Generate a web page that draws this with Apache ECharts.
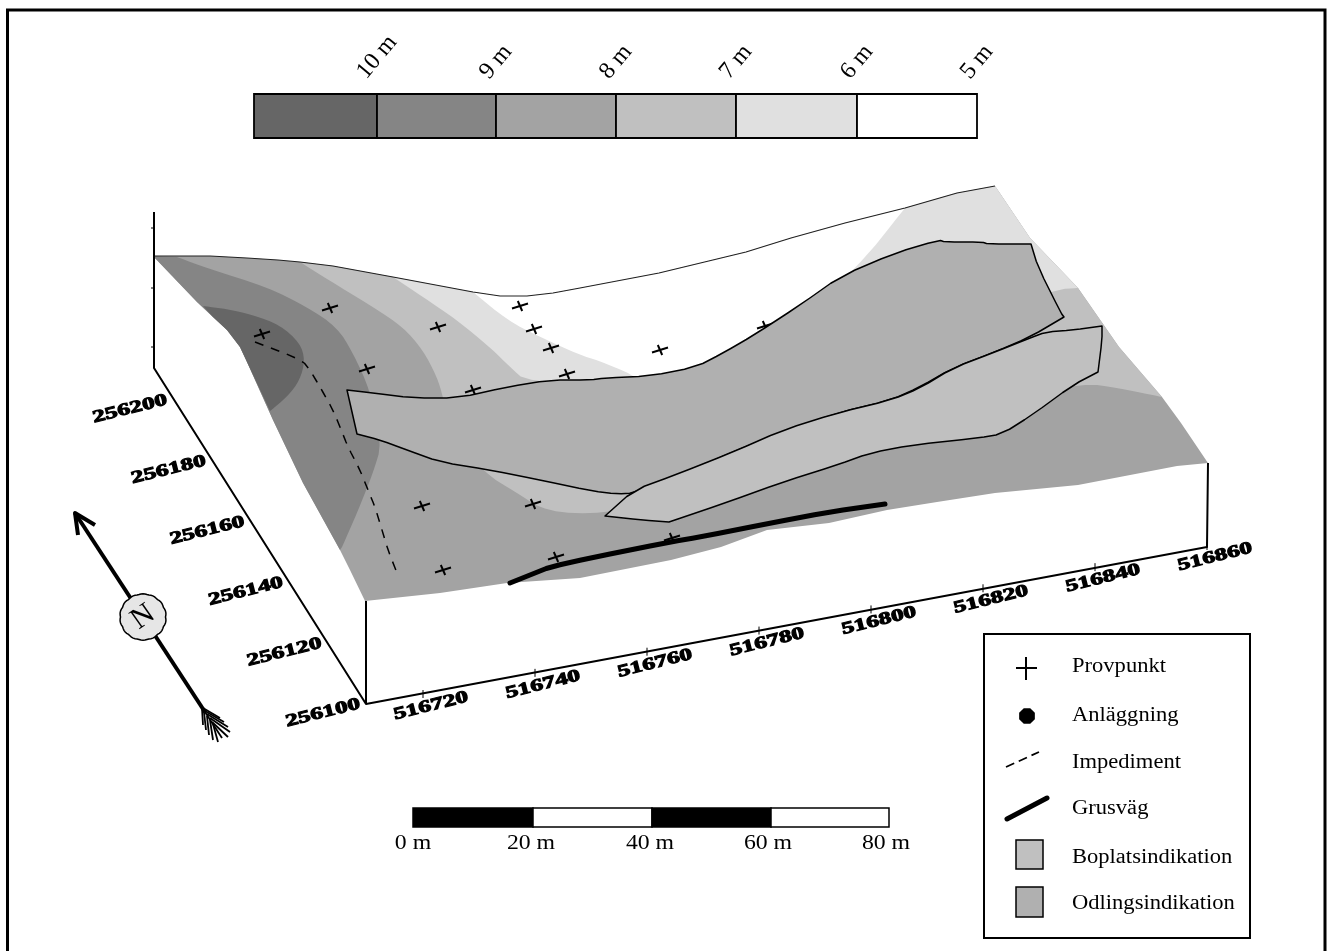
<!DOCTYPE html>
<html><head><meta charset="utf-8">
<style>html,body{margin:0;padding:0;background:#fff}#c{width:1328px;height:951px}</style>
<script src="https://cdn.jsdelivr.net/npm/echarts@6/dist/echarts.min.js"></script>
</head><body><div id="c"></div>
<script>
// Readings from the picture, in the chart's plain [x, y] plot units
const terrainTop=[[153,256],[210,256],[247,258],[278,260],[300,262],[333,266],[393,277],[473,292],[500,296],[527,296],[553,293],[580,288],[659,273],[746,252],[791,238],[845,223],[905,208],[957,193],[995,186]];
const terrainRight=[[1030,238],[1078,288],[1119,347],[1162,397],[1181,423],[1208,463]];
const terrainFront=[[1177,466],[1078,485],[995,493],[937,502],[887,510],[829,523],[767,530],[721,547],[671,560],[580,578],[507,583],[440,593],[365,601]];
const terrainLeft=[[350,570],[340,550],[303,483],[273,420],[247,362],[240,347],[227,330],[213,317],[197,302]];
const contour9=[[177,257],[207,268],[267,287],[307,307],[337,327],[353,353],[370,390],[382,443],[373,473],[357,513],[342,547]];
const contour10=[[203,306],[227,309],[253,315],[280,325],[300,343],[305,360],[300,380],[287,397],[270,411]];
const contour7=[[1162,397],[1119,388],[1084,383],[1000,400],[800,450],[660,500],[604,514],[547,512],[517,493],[483,472],[450,430],[443,397],[437,377],[423,350],[403,327],[373,307],[340,287],[300,262]];
const contour6=[[1078,288],[1057,289],[900,340],[650,390],[527,382],[510,367],[493,350],[457,320],[423,297],[393,277]];
const contour5=[[905,208],[858,267],[760,360],[640,385],[634,375],[597,360],[580,355],[540,337],[507,320],[473,292]];
const odlings=[[347,390],[373,393],[413,398],[458,398],[507,387],[550,380],[590,380],[605,378],[650,376],[696,367],[723,353],[754,335],[800,305],[841,276],[895,253],[939,240],[945,242],[982,242],[988,244],[1031,244],[1038,267],[1061,313],[1064,317],[1030,337],[995,352],[953,368],[920,387],[891,400],[837,413],[775,435],[733,452],[680,475],[634,493],[617,494],[592,491],[540,480],[490,470],[440,462],[407,450],[380,440],[357,434]];
const boplats=[[605,516],[634,490],[675,475],[733,452],[783,430],[837,413],[891,400],[920,388],[953,368],[995,352],[1030,338],[1046,332],[1073,330],[1102,326],[1102,340],[1098,372],[1073,385],[1032,415],[1002,434],[978,438],[912,445],[870,453],[837,465],[783,482],[725,503],[669,522],[642,520]];
const road=[[510,583],[535,573],[550,567],[590,558],[670,542],[700,537],[771,523],[829,512],[885,504]];
const impediment=[[255,342],[297,358],[307,365],[320,387],[333,410],[340,427],[348,447],[360,470],[368,490],[375,507],[382,530],[388,550],[397,573]];
const samplePoints=[[330,308],[438,327],[520,306],[534,329],[551,348],[567,374],[473,390],[367,369],[262,334],[422,506],[533,504],[443,570],[556,557],[660,350],[765,326],[672,538]];
const rampLabels=['10 m','9 m','8 m','7 m','6 m','5 m'];
const rampGreys=['#666666','#858585','#a3a3a3','#c0c0c0','#e0e0e0','#ffffff'];
const rampEdges=[254,377,496,616,736,857,977];
const eastTicks=[516720,516740,516760,516780,516800,516820,516840,516860];
const northTicks=[256200,256180,256160,256140,256120,256100];
const scaleLabels=['0 m','20 m','40 m','60 m','80 m'];
const scaleEdges=[413,533,652,771,889];
const legendLabels=['Provpunkt','Anläggning','Impediment','Grusväg','Boplatsindikation','Odlingsindikation'];

const SERIF='"Liberation Serif","Times New Roman",serif';
const series=[];
let z=1;
// Corner-cutting for drawing curved outlines; end points stay where they are
function round(pts,n){
  let cur=pts;
  for(let k=0;k<(n||2);k++){
    const out=[cur[0]];
    for(let i=0;i<cur.length-1;i++){
      const a=cur[i],b=cur[i+1];
      out.push([a[0]*.75+b[0]*.25,a[1]*.75+b[1]*.25],[a[0]*.25+b[0]*.75,a[1]*.25+b[1]*.75]);
    }
    out.push(cur[cur.length-1]);
    cur=out;
  }
  return cur;
}
// rounds the runs between listed sharp corners
function runs(pts,corners){
  const idx=corners.map(c=>pts.findIndex(p=>p[0]===c[0]&&p[1]===c[1]));
  let out=[];
  for(let i=0;i<idx.length;i++){
    const s=idx[i],e=idx[(i+1)%idx.length];
    const part=e>s?pts.slice(s,e+1):pts.slice(s).concat(pts.slice(0,e+1));
    out=out.concat(round(part,1).slice(0,-1));
  }
  return out;
}
function shape(pts,style,closed){
  series.push({type:'custom',coordinateSystem:'cartesian2d',silent:true,clip:false,z:z++,animation:false,
    data:[[pts[0][0],pts[0][1]]],encode:{x:0,y:1},
    renderItem:(p,api)=>({type:closed?'polygon':'polyline',
      shape:{points:pts.map(q=>api.coord(q))},
      style:Object.assign(closed?{}:{fill:null},style)})});
}
function marks(name,items,build){
  series.push({name,type:'custom',coordinateSystem:'cartesian2d',silent:true,clip:false,z:z++,animation:false,
    data:items.map((d,i)=>[d[0],d[1],i]),encode:{x:0,y:1},
    renderItem:(p,api)=>build(api.coord([api.value(0),api.value(1)]),api.value(2),api)});
}
function label(xy,text,o){
  const t=Object.assign({font:SERIF,size:18,weight:'normal',align:'center',rot:0,sx:1,sw:0},o||{});
  marks('t',[[xy[0],xy[1]]],(c)=>({type:'text',x:c[0],y:c[1],rotation:t.rot*Math.PI/180,scaleX:t.sx,
    style:{text,fontFamily:t.font,fontSize:t.size,fontWeight:t.weight,fill:'#000',stroke:t.sw?'#000':null,lineWidth:t.sw,align:t.align,verticalAlign:'middle'}}));
}
const line=(w,extra)=>Object.assign({stroke:'#000',lineWidth:w,lineJoin:'round'},extra||{});

// frame
shape([[7.5,951],[7.5,10],[1325,10],[1325,951]],line(3,{lineJoin:'miter'}));
// colour ramp
rampGreys.forEach((g,i)=>shape([[rampEdges[i],94],[rampEdges[i+1],94],[rampEdges[i+1],138],[rampEdges[i],138]],{fill:g,stroke:'#000',lineWidth:1.8},true));
rampLabels.forEach((s,i)=>label([rampEdges[i+1],i==0?57:62],s,{size:24,rot:50}));
// terrain
const topFrom=i=>terrainTop.slice(i);
shape([...terrainTop,...terrainRight,...terrainFront,...terrainLeft],{fill:'#a3a3a3'},true);
shape([[153,256],...round(contour9),[340,550],[303,483],[273,420],[247,362],[240,347],[227,330],[213,317],[197,302]],{fill:'#858585'},true);
shape([...round(contour10),[247,362],[240,347],[227,330],[213,317]],{fill:'#666666'},true);
shape([...topFrom(4),...terrainRight.slice(0,4),...round(contour7)],{fill:'#c0c0c0'},true);
shape([...topFrom(6),...terrainRight.slice(0,2),...round(contour6)],{fill:'#e0e0e0'},true);
shape([[473,292],...terrainTop.slice(8,16),...round(contour5)],{fill:'#ffffff'},true);
shape(terrainTop,line(1.2,{stroke:'#222'}));
// sample points
marks('Provpunkt',samplePoints,(c)=>({type:'group',children:[
  {type:'line',shape:{x1:c[0]-8,y1:c[1]+2.5,x2:c[0]+8,y2:c[1]-2.5},style:line(2)},
  {type:'line',shape:{x1:c[0]-2.2,y1:c[1]-5,x2:c[0]+2.2,y2:c[1]+5},style:line(2)}]}));
shape(round(impediment,1),line(1.5,{lineDash:[9,8]}));
shape(runs(odlings,[[347,390],[1031,244],[1064,317],[357,434]]),{fill:'#b0b0b0',stroke:'#000',lineWidth:1.5,lineJoin:'round'},true);
shape(runs(boplats,[[605,516],[1102,326],[1098,372],[669,522]]),{fill:'#c0c0c0',stroke:'#000',lineWidth:1.5,lineJoin:'round'},true);
shape(round(road,1),line(5,{lineCap:'round'}));
// box axes
shape([[154,212],[154,368],[366,704],[1207,547],[1208,463]],line(2));
shape([[366,601],[366,704]],line(2));
[228,288,347].forEach(y=>shape([[151,y],[154,y]],line(1)));
northTicks.forEach(v=>{
  const f=(v-256100)/100;
  label([323-193*f,713-304*f],String(v),{size:17,weight:'bold',rot:14,sx:1.5,sw:1});
});
eastTicks.forEach(v=>{
  const f=(v-516720)/140;
  const px=423+784*f, py=693-148*f;
  shape([[px,py-3],[px,py+5]],line(1));
  label([431+784*f,706-149*f],String(v),{size:17,weight:'bold',rot:14,sx:1.5,sw:1});
});
// north arrow
shape([[75,513],[205,712]],line(4));
shape([[95,525],[75,513],[78,535]],line(4));
[[[203,708],[220,718]],[[205,711],[224,722]],[[207,714],[228,727]],[[210,718],[230,732]],[[212,722],[228,737]],[[202,708],[203,725]],[[204,712],[206,730]],[[207,716],[209,735]],[[210,720],[213,740]],[[213,724],[218,742]],[[205,712],[222,738]]].forEach(s=>shape(s,line(1.8)));
marks('N',[[143,617]],(c)=>{
  const pts=[];
  for(let i=0;i<72;i++){const a=i/72*2*Math.PI,r=22.5+0.8*Math.abs(Math.sin(a*7));pts.push([c[0]+r*Math.cos(a),c[1]+r*Math.sin(a)]);}
  return {type:'polygon',shape:{points:pts},style:{fill:'#e6e6e6',stroke:'#000',lineWidth:1.5}};
});
label([143,617],'N',{size:30,rot:35});
// scale bar
scaleEdges.slice(0,-1).forEach((x,i)=>shape([[x,808],[scaleEdges[i+1],808],[scaleEdges[i+1],827],[x,827]],{fill:i%2?'#fff':'#000',stroke:'#000',lineWidth:1.5},true));
scaleLabels.forEach((s,i)=>label([[413,531,650,768,886][i],843],s,{size:22,sx:1.08}));
// legend
shape([[984,634],[1250,634],[1250,938],[984,938]],{fill:'#fff',stroke:'#000',lineWidth:2},true);
shape([[1026,657],[1026,680]],line(2));
shape([[1016,668],[1037,668]],line(2));
marks('o',[[1027,716]],(c)=>{
  const pts=[];for(let i=0;i<8;i++){const a=(i+.5)/8*2*Math.PI;pts.push([c[0]+8.5*Math.cos(a),c[1]+8.5*Math.sin(a)]);}
  return {type:'polygon',shape:{points:pts},style:{fill:'#000'}};
});
shape([[1006,767],[1039,752]],line(1.8,{lineDash:[9,5]}));
shape([[1007,819],[1047,798]],line(5,{lineCap:'round'}));
shape([[1016,840],[1043,840],[1043,869],[1016,869]],{fill:'#c0c0c0',stroke:'#000',lineWidth:1.5},true);
shape([[1016,887],[1043,887],[1043,917],[1016,917]],{fill:'#b0b0b0',stroke:'#000',lineWidth:1.5},true);
legendLabels.forEach((s,i)=>label([1072,[667,716,763,809,858,904][i]],s,{size:20.5,align:'left',sx:1.1}));

const chart=echarts.init(document.getElementById('c'),null,{renderer:'canvas'});
chart.setOption({animation:false,backgroundColor:'#fff',
  grid:{left:0,right:0,top:0,bottom:0},
  xAxis:{type:'value',min:0,max:1328,show:false},
  yAxis:{type:'value',min:0,max:951,inverse:true,show:false},
  series});
</script></body></html>
